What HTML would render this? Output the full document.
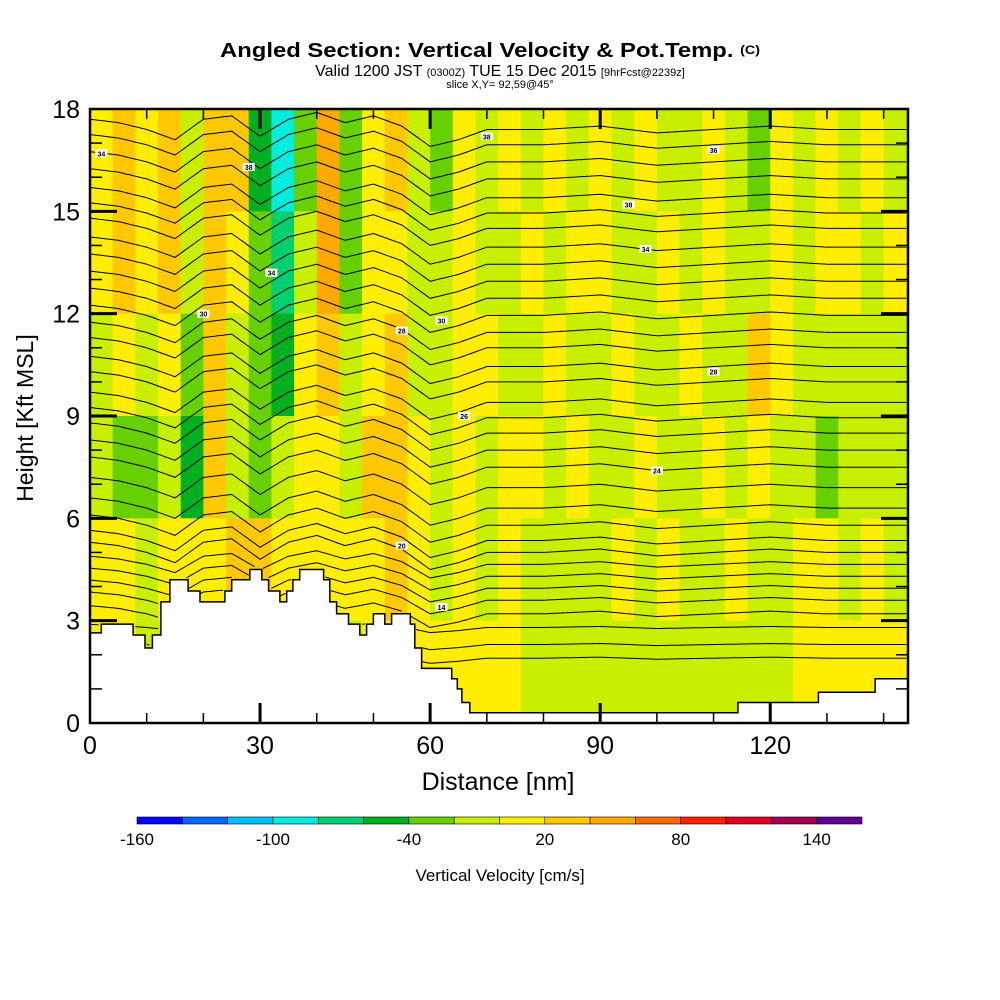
<!DOCTYPE html>
<html><head><meta charset="utf-8"><style>
html,body{margin:0;padding:0;background:#fff}
svg{display:block}
text{font-family:"Liberation Sans",Arial,sans-serif}
</style></head><body>
<svg id="chart" width="1000" height="1000" viewBox="0 0 1000 1000" xmlns="http://www.w3.org/2000/svg">
<g>
<text x="490" y="57" text-anchor="middle" font-size="20" font-weight="bold" textLength="540" lengthAdjust="spacingAndGlyphs">Angled Section: Vertical Velocity &amp; Pot.Temp. <tspan font-size="12" dy="-3">(C)</tspan></text>
<text x="500" y="76" text-anchor="middle" font-size="16">Valid 1200 JST <tspan font-size="11">(0300Z)</tspan> TUE 15 Dec 2015 <tspan font-size="11">[9hrFcst@2239z]</tspan></text>
<text x="500" y="88" text-anchor="middle" font-size="11">slice X,Y= 92,59@45°</text>
</g>
<defs><clipPath id="pc"><rect x="90" y="109" width="818" height="614"/></clipPath></defs>
<g id="fill" clip-path="url(#pc)"></g>
<g id="cont" clip-path="url(#pc)"></g>
<g id="terr" clip-path="url(#pc)"></g>
<g id="labs" clip-path="url(#pc)"></g>
<rect x="90" y="109" width="818" height="614" fill="none" stroke="#000" stroke-width="2.5"/>
<g id="axes"></g>
<text x="498" y="790" text-anchor="middle" font-size="25">Distance [nm]</text>
<text transform="translate(33,418) rotate(-90)" text-anchor="middle" font-size="23">Height [Kft MSL]</text>
<g id="cbar"></g>
<text x="500" y="881" text-anchor="middle" font-size="17">Vertical Velocity [cm/s]</text>
</svg>
<script>
// ---- data ----
const colLevels = [-160,-140,-120,-100,-80,-60,-40,-20,0,20,40,60,80,100,120,140,160];
const colColors = ["#0000ff","#0066ff","#00c0ff","#00eedd","#00d070","#00b020","#66d000","#c8ee00","#ffee00","#ffc800","#ffa800","#ff6a00","#ff2000","#e00020","#a00050","#600090"];
const cbTicks = [-160,-100,-40,20,80,140];
// velocity grid: columns every 4 nm, rows 15-18,12-15,9-12,6-9,3-6,0-3 kft
const wRowTops = [18,15,12,9,6,3];
const wCols = [
[10,10,-10,-10,10,10],[30,30,10,-30,10,10],[10,10,-10,-30,-10,-10],[30,30,10,-10,10,-10],
[-10,-10,-30,-50,10,10],[30,30,30,30,10,10],[30,10,-10,-10,30,10],[-50,-30,-30,-30,30,10],
[-90,-70,-50,-10,10,10],[-30,-10,10,10,10,-10],[50,50,30,10,10,10],[-30,-30,-10,-10,10,-10],
[10,10,10,30,10,10],[30,10,30,30,30,10],[-10,-10,-10,10,10,10],[-30,-10,-10,-10,-10,10],
[10,10,10,10,10,10],[-10,-10,10,-10,-10,10],[10,-10,-10,10,10,10],[-10,10,-10,10,-10,-10],
[10,-10,10,-10,-10,-10],[-10,10,-10,10,-10,-10],[10,10,-10,-10,-10,-10],[-10,-10,10,-10,10,-10],
[10,-10,-10,10,-10,-10],[-10,10,-10,-10,10,-10],[-10,-10,10,-10,-10,-10],[10,10,-10,10,-10,-10],
[-10,-10,-10,-10,10,-10],[-30,-10,30,10,-10,-10],[10,10,10,-10,-10,-10],[-10,-10,-10,-10,10,10],
[10,10,-10,-30,10,10],[-10,10,-10,-10,-10,10],[10,-10,-10,-10,10,10],[-10,10,-10,-10,-10,10]
];
const terrX = [0,2,7.6,9.7,11,12.5,14.1,17.3,19.4,23.8,25,28.2,30.3,31.5,33.5,34.7,35.8,37,41.2,42.3,43.5,45.6,47.6,48.8,50,52,53.2,56.5,57.3,58.5,63.8,64.8,65.6,67,114.3,128.5,138.5];
const terrH = [2.64,2.9,2.58,2.2,2.58,3.55,4.2,3.87,3.55,3.87,4.2,4.5,4.2,3.87,3.55,3.87,4.2,4.5,4.2,3.55,3.2,2.9,2.58,2.9,3.2,2.9,3.2,2.9,2.2,1.6,1.3,1.0,0.6,0.3,0.6,0.9,1.3];
const thetaBase = [17.4,16.95,16.45,15.95,15.4,14.95,14.5,13.95,13.45,12.95,12.45,11.95,11.45,11.0,10.45,10.0,9.4,8.95,8.5,8.0,7.5,6.9,6.3,5.8,5.35,5.0,4.65,4.3,3.95,3.6,3.2,2.8,2.3,1.9];
const dispX = [0,5,10,15,20,25,30,35,40,45,50,55,60,65,70,80,90,100,110,120,130,144];
const dispV = [0.3,0.2,0.0,-0.3,0.3,0.4,-0.2,0.3,0.5,0.2,0.4,0.1,-0.5,-0.3,0,0,0.1,-0.1,0,0.1,0,0];
const labNm = [2,28,32,20,55,62,70,95,98,110,110,100,66,55,62];
const labK = [16.7,16.3,13.2,12.0,11.5,11.8,17.2,15.2,13.9,16.8,10.3,7.4,9.0,5.2,3.4];
const labTxt = ["34","38","34","30","28","30","38","38","34","36","28","24","26","20","14"];
// ---- axes funcs ----
const X = nm => 90 + nm*(818/144.3);
const Y = k => 723 - k*(614/18);
const NS="http://www.w3.org/2000/svg";
function mk(tag, attrs, parent){const e=document.createElementNS(NS,tag);for(const k in attrs)e.setAttribute(k,attrs[k]);parent.appendChild(e);return e;}
function colorOf(w){for(let i=0;i<colColors.length;i++){if(w<colLevels[i+1])return colColors[i];}return colColors[colColors.length-1];}
function interp(xs,vs,x){if(x<=xs[0])return vs[0];for(let i=1;i<xs.length;i++){if(x<=xs[i]){const t=(x-xs[i-1])/(xs[i]-xs[i-1]);return vs[i-1]+t*(vs[i]-vs[i-1]);}}return vs[vs.length-1];}
function terrAt(x){let h=terrH[0];for(let i=0;i<terrX.length;i++){if(x>=terrX[i])h=terrH[i];}return h;}
// fill
const fillG=document.getElementById('fill');
mk('rect',{x:90,y:109,width:818,height:614,fill:"#c8ee00"},fillG);
wCols.forEach((col,ci)=>{
  col.forEach((w,ri)=>{
    const r=mk('rect',{x:X(ci*4),y:Y(wRowTops[ri]),width:X(ci*4+4)-X(ci*4)+0.5,height:Y(wRowTops[ri]-3)-Y(wRowTops[ri])+0.5,fill:colorOf(w)},fillG);
    
    
  });
});
// contours
const contG=document.getElementById('cont');
thetaBase.forEach(b=>{
  const sc = b<3?0.3:(b<5?0.8:1);
  let d="",pen=false;
  for(let x=0;x<=144.3;x+=0.5){
    const h=b+interp(dispX,dispV,x)*sc;
    if(h<terrAt(x)+0.05){pen=false;continue;}
    d+=(pen?"L":"M")+X(x).toFixed(1)+","+Y(h).toFixed(1);pen=true;
  }
  const p=mk('path',{d:d,fill:"none",stroke:"#000","stroke-width":1},contG);
  
  
});
// terrain
const terrG=document.getElementById('terr');
let td="M"+X(0)+","+Y(0);
for(let i=0;i<terrX.length;i++){
  const x1=X(terrX[i]), x2=X(i+1<terrX.length?terrX[i+1]:144.3);
  td+=" L"+x1.toFixed(1)+","+Y(terrH[i]).toFixed(1)+" L"+x2.toFixed(1)+","+Y(terrH[i]).toFixed(1);
}
td+=" L"+X(144.3)+","+Y(0)+" Z";
const tp=mk('path',{d:td,fill:"#fff",stroke:"#000","stroke-width":1.5},terrG);


// contour labels
const labG=document.getElementById('labs');
labNm.forEach((n,i)=>{
  const g=mk('g',{},labG);
  
  
  mk('rect',{x:X(n)-6,y:Y(labK[i])-4,width:12,height:8,fill:"#fff"},g);
  const t=mk('text',{x:X(n),y:Y(labK[i])+3,"text-anchor":"middle","font-size":7,"font-weight":"bold"},g);
  t.textContent=labTxt[i];
});
// axes ticks and labels
const ax=document.getElementById('axes');
for(let v=0;v<=140;v+=10){
  const maj=v%30===0, L=maj?20:10;
  if(v>0){
    mk('line',{x1:X(v),y1:723,x2:X(v),y2:723-L,stroke:"#000","stroke-width":maj?3:1.5},ax);
    mk('line',{x1:X(v),y1:109,x2:X(v),y2:109+L,stroke:"#000","stroke-width":maj?3:1.5},ax);
  }
  if(maj){const t=mk('text',{x:X(v),y:754,"text-anchor":"middle","font-size":25},ax);t.textContent=v;}
}
for(let v=0;v<=18;v++){
  const maj=v%3===0, L=maj?27:12;
  if(v>0&&v<18){
    mk('line',{x1:90,y1:Y(v),x2:90+L,y2:Y(v),stroke:"#000","stroke-width":maj?3:1.5},ax);
    mk('line',{x1:908,y1:Y(v),x2:908-L,y2:Y(v),stroke:"#000","stroke-width":maj?3:1.5},ax);
  }
  if(maj){const t=mk('text',{x:80,y:Y(v)+9,"text-anchor":"end","font-size":25},ax);t.textContent=v;}
}
// colorbar
const cb=document.getElementById('cbar');
const cbX=v=>137+(v+160)*(725/320);
colColors.forEach((c,i)=>{
  const r=mk('rect',{x:cbX(colLevels[i]),y:817,width:cbX(colLevels[i+1])-cbX(colLevels[i]),height:7,fill:c,stroke:"#000","stroke-width":0.6},cb);
  
  
});
cbTicks.forEach(v=>{
  const t=mk('text',{x:cbX(v),y:845,"text-anchor":"middle","font-size":17},cb);
  
  
  t.textContent=v;
});
</script>
</body></html>
